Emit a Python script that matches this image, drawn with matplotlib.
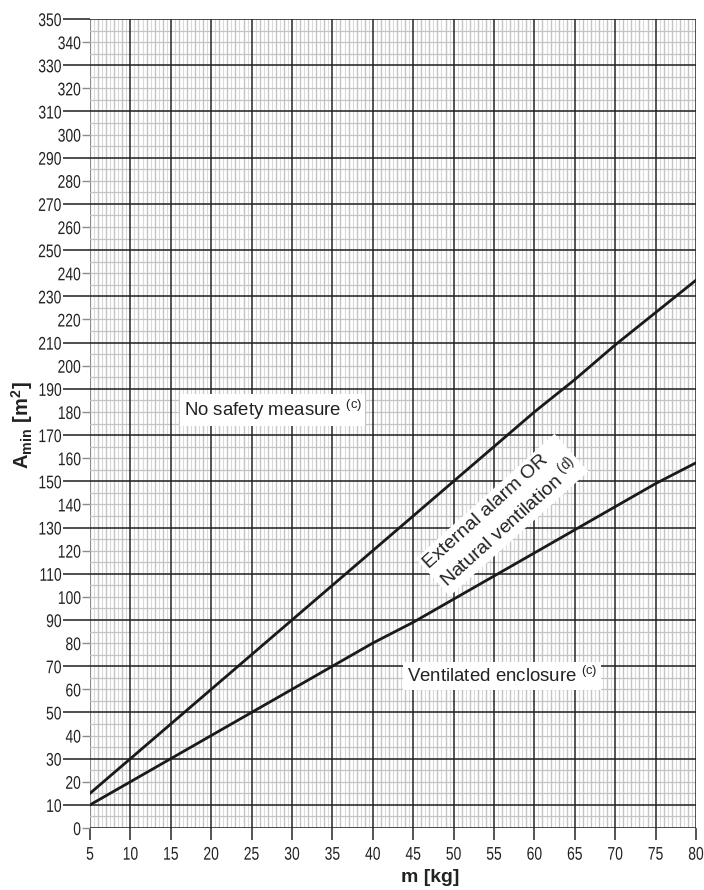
import numpy as np
import matplotlib.pyplot as plt
from matplotlib import patheffects
from matplotlib.transforms import Affine2D

plt.rcParams['font.family'] = ['Liberation Sans', 'DejaVu Sans']
plt.rcParams['mathtext.fontset'] = 'custom'
plt.rcParams['mathtext.rm'] = 'Liberation Sans'
plt.rcParams['mathtext.bf'] = 'Liberation Sans:bold'

# --- data ---
m_kg = [5, 10, 15, 20, 25, 30, 35, 40, 45, 50, 55, 60, 65, 70, 75, 80]
a_no_safety = [15, 30, 45, 60, 75, 90, 105, 120, 135, 150, 165, 180, 194, 209, 223, 237]
a_ventilated = [10, 20, 30, 40, 50, 60, 70, 80, 89, 99, 109, 119, 129, 139, 149, 158]

x_ticks = list(range(5, 81, 5))
y_ticks_long = list(range(10, 351, 20))
y_ticks_short = list(range(0, 341, 20))


class Tall(patheffects.AbstractPathEffect):
    """Stretch glyphs vertically so the digits look like a narrow font."""

    def __init__(self, sy=1.3):
        super().__init__()
        self.sy = sy

    def draw_path(self, renderer, gc, tpath, affine, rgbFace=None):
        ys = tpath.vertices[:, 1]
        if len(ys) == 0:
            return
        y0 = (ys.min() + ys.max()) / 2
        stretch = Affine2D().translate(0, -y0).scale(1, self.sy).translate(0, y0)
        renderer.draw_path(gc, tpath, stretch + affine, rgbFace)


def draw_chart():
    fig = plt.figure(figsize=(7.04, 8.90), dpi=100)
    ax = fig.add_axes([90 / 704, 62 / 890, 606 / 704, 809 / 890])
    ax.set_xlim(5, 80)
    ax.set_ylim(0, 350)

    # --- graph paper grid ---
    for v in np.arange(5, 80.01, 0.5):
        if v == 5:
            ax.axvline(v, color='#8c8c8c', lw=1.6, zorder=1)
        elif v % 5 == 0:
            ax.axvline(v, color='#262626', lw=1.1, zorder=2)
        elif v % 1 == 0:
            ax.axvline(v, color='#c4c4c4', lw=1.0, zorder=1)
        else:
            ax.axvline(v, color='#dadada', lw=0.8, zorder=1)
    for v in np.arange(0, 351, 5):
        if v % 20 == 10 or v == 0:
            ax.axhline(v, color='#1e1e1e', lw=1.1, zorder=2)
        else:
            ax.axhline(v, color='#c4c4c4', lw=0.9, zorder=1)

    for s in ax.spines.values():
        s.set_visible(False)

    # --- curves ---
    ax.plot(m_kg, a_no_safety, color='#1a1a1a', lw=2.0, zorder=5)
    ax.plot(m_kg, a_ventilated, color='#1a1a1a', lw=2.0, zorder=5)

    # --- ticks ---
    tick_kw = dict(fontsize=10, color='#222222', path_effects=[Tall(1.32)])
    ax.set_xticks(x_ticks)
    ax.set_xticklabels([str(t) for t in x_ticks], **tick_kw)
    ax.tick_params(axis='x', length=8.5, width=1.1, color='#262626', pad=5.3)

    ax.set_yticks(y_ticks_long)
    ax.set_yticklabels([str(t) for t in y_ticks_long], **tick_kw)
    ax.set_yticks(y_ticks_short, minor=True)
    ax.set_yticklabels([str(t) for t in y_ticks_short], minor=True, **tick_kw)
    ax.tick_params(axis='y', which='major', length=19.5, width=1.1, color='#1e1e1e', pad=1)
    ax.tick_params(axis='y', which='minor', length=5.5, width=1.0, color='#8c8c8c', pad=1)

    # --- annotations ---
    box = dict(facecolor='white', edgecolor='none', pad=2.5)
    ax.text(27.6, 181, 'No safety measure $^{\\mathrm{(c)}}$', fontsize=13.4,
            color='#222222', ha='center', va='center', bbox=box, zorder=6)
    ax.text(56.0, 135.4, 'External alarm OR\nNatural ventilation $^{\\mathrm{(d)}}$',
            fontsize=14, color='#222222', ha='center', va='center',
            multialignment='left', rotation=42, rotation_mode='anchor',
            linespacing=1.1, bbox=box, zorder=6)
    ax.text(56.0, 65.8, 'Ventilated enclosure $^{\\mathrm{(c)}}$', fontsize=13.4,
            color='#222222', ha='center', va='center', bbox=box, zorder=6)

    # --- axis titles ---
    fig.text(22 / 704, 1 - 425 / 890, r'$\mathbf{A_{min}\ [m^2]}$', rotation=90,
             ha='center', va='center', fontsize=14.5, color='#222222')
    fig.text(430 / 704, 1 - 877 / 890, 'm [kg]', fontweight='bold',
             ha='center', va='center', fontsize=14, color='#222222')

    fig.savefig('out.png', dpi=100)


if __name__ == '__main__':
    draw_chart()
